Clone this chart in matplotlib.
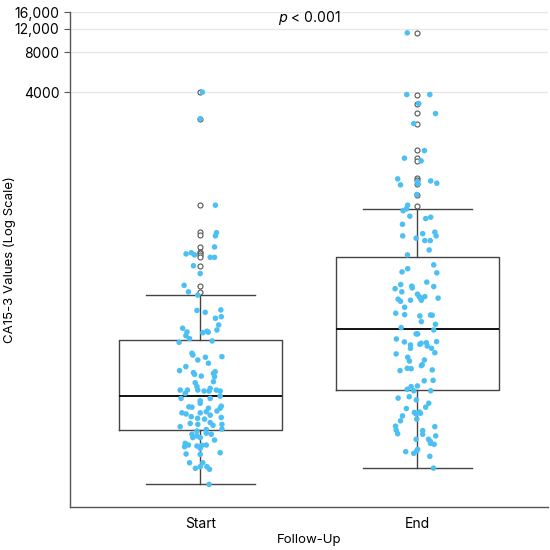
import matplotlib
matplotlib.use("Agg")
import matplotlib.pyplot as plt
from matplotlib.ticker import FixedLocator, NullLocator

plt.rcParams['font.family'] = ['Inter', 'DejaVu Sans']

categories = ['Start', 'End']

# CA15-3 values (log scale)
start_values = [4000, 2518, 565, 351, 332, 274, 248, 243, 239, 229, 229, 198, 173, 141, 126, 119,
                91.3, 88.4, 92.1, 81.9, 79.7, 71.0, 67.1, 65.1, 62.9, 62.1, 63.7, 62.6, 59.0, 56.0,
                52.6, 53.8, 43.5, 42.2, 40.6, 38.7, 41.0, 36.6, 34.5, 32.2, 31.1, 30.2, 29.3, 31.6,
                30.7, 29.0, 26.1, 26.6, 24.4, 23.0, 23.0, 23.0, 21.7, 22.6, 23.7, 22.6, 23.0, 22.6,
                19.9, 19.1, 18.3, 19.9, 20.7, 17.2, 17.1, 16.8, 17.4, 16.8, 15.5, 15.2, 15.5, 15.8,
                16.0, 14.5, 14.1, 13.9, 14.9, 14.3, 12.2, 12.9, 12.7, 13.1, 12.5, 12.7, 11.7, 11.3,
                11.6, 10.7, 10.4, 10.1, 10.9, 10.1, 10.7, 9.68, 9.14, 8.88, 8.62, 8.73, 8.83, 8.88,
                7.77, 8.38, 7.55, 7.60, 6.53, 5.93, 6.10, 6.53, 6.10, 5.83, 4.49]
start_jitter = [0.01, 0.0, 0.07, 0.075, 0.07, 0.066, -0.041, -0.065, -0.026, 0.046, 0.066, -0.031,
                0.0, -0.074, -0.054, -0.011, -0.015, 0.023, 0.095, 0.097, 0.07, 0.085, -0.081,
                0.077, -0.061, 0.012, 0.031, 0.037, -0.066, -0.049, -0.097, 0.055, -0.038, -0.034,
                0.024, -0.011, 0.1, 0.038, -0.066, -0.095, -0.031, -0.026, 0.005, 0.069, 0.061,
                0.066, -0.023, 0.061, -0.015, -0.011, -0.092, -0.059, -0.069, 0.018, 0.046, 0.041,
                0.074, 0.092, -0.088, 0.0, 0.0, 0.046, 0.092, -0.052, -0.038, 0.038, 0.097, 0.092,
                -0.084, -0.065, 0.0, 0.028, 0.077, -0.041, -0.012, 0.02, 0.046, 0.097, -0.092,
                -0.046, -0.011, 0.046, 0.059, 0.1, 0.1, -0.015, 0.028, -0.038, -0.015, 0.0, 0.028,
                -0.034, 0.051, 0.066, -0.069, -0.054, -0.072, -0.015, 0.008, 0.028, 0.092, 0.0,
                0.0, -0.065, -0.049, -0.022, 0.0, 0.012, 0.031, 0.043, 0.041]

end_values = [11170, 3837, 3837, 3282, 2761, 2322, 1454, 1275, 1217, 891, 803, 850, 817, 860, 827,
              679, 565, 530, 514, 467, 448, 459, 406, 332, 319, 345, 354, 332, 306, 306, 260, 239,
              201, 188, 178, 175, 143, 133, 139, 135, 149, 138, 126, 111, 107, 109, 121, 116, 109,
              116, 113, 113, 96.5, 87.0, 84.9, 83.0, 75.2, 84.4, 84.0, 71.8, 67.8, 65.1, 60.8, 60.8,
              55.7, 52.9, 50.2, 47.4, 50.8, 51.7, 52.2, 49.3, 53.2, 47.4, 43.9, 43.0, 40.6, 38.0,
              38.7, 35.7, 35.1, 32.2, 33.5, 33.3, 32.6, 27.0, 27.2, 24.4, 23.3, 24.7, 22.7, 22.7,
              20.0, 20.5, 19.4, 18.3, 17.1, 16.7, 14.7, 13.5, 15.6, 15.2, 15.4, 15.7, 13.9, 12.3,
              11.5, 10.8, 12.2, 11.4, 10.7, 10.4, 9.80, 9.46, 9.14, 8.99, 9.80, 8.24, 8.04, 7.91,
              7.69, 7.30, 5.95]
end_jitter = [-0.047, -0.049, 0.057, 0.006, 0.083, -0.017, 0.032, -0.06, 0.017, -0.091, -0.078, 0.0,
              0.003, 0.061, 0.089, -0.003, -0.045, -0.051, -0.066, -0.035, 0.038, 0.061, -0.069,
              -0.068, -0.006, 0.024, 0.08, 0.086, 0.034, 0.059, 0.054, -0.046, 0.075, -0.045,
              -0.071, 0.089, -0.077, -0.103, -0.026, -0.024, 0.043, 0.075, -0.072, -0.089, -0.078,
              -0.032, 0.0, 0.008, 0.018, 0.034, 0.014, 0.095, -0.059, -0.1, -0.059, 0.011, 0.018,
              0.06, 0.068, 0.083, -0.075, 0.075, -0.006, 0.001, -0.097, -0.06, -0.032, -0.032,
              0.011, 0.017, 0.041, 0.045, 0.088, 0.065, 0.08, -0.098, -0.045, -0.037, 0.032, 0.022,
              0.018, -0.08, -0.047, -0.029, 0.068, 0.031, 0.072, -0.029, -0.047, 0.0, -0.017, 0.061,
              -0.089, -0.038, -0.005, 0.052, 0.038, -0.051, -0.069, -0.078, -0.014, -0.006, 0.014,
              0.009, -0.003, -0.101, -0.098, -0.091, 0.08, 0.024, 0.024, 0.084, 0.051, 0.059, 0.06,
              0.077, -0.006, 0.001, -0.003, -0.054, -0.017, 0.057, 0.074]

# box statistics (q1, median, q3, whiskers) and outliers
q1 = [11.6, 22.9]
med = [20.9, 66.2]
q3 = [54.7, 229]
whislo = [4.49, 5.95]
whishi = [119, 530]
start_fliers = [4000, 2517, 565, 354, 336, 273, 251, 246, 238, 231, 197, 140, 126]
end_fliers = [11170, 3835, 3268, 2767, 2321, 1459, 1277, 1206, 906, 875, 812, 679, 561]

ytick_values = [4000, 8000, 12000, 16000]
ytick_labels = ['4000', '8000', '12,000', '16,000']

fig = plt.figure(figsize=(5.5, 5.5), dpi=100)
ax = fig.add_axes([0.127, 0.078, 0.869, 0.9])

stats = []
for i, lab in enumerate(categories):
    stats.append({'label': lab, 'q1': q1[i], 'med': med[i], 'q3': q3[i],
                  'whislo': whislo[i], 'whishi': whishi[i],
                  'fliers': [start_fliers, end_fliers][i]})

ax.bxp(stats, positions=[0, 1], widths=0.75, capwidths=0.5, showfliers=True,
       boxprops=dict(color='#444444', linewidth=1.0),
       whiskerprops=dict(color='#444444', linewidth=1.0),
       capprops=dict(color='#444444', linewidth=1.0),
       medianprops=dict(color='#111111', linewidth=1.4),
       flierprops=dict(marker='o', markersize=3.6, markerfacecolor='white',
                       markeredgecolor='#555555', markeredgewidth=0.8, linestyle='none'),
       zorder=2)

for i, (vals, jit) in enumerate([(start_values, start_jitter), (end_values, end_jitter)]):
    ax.scatter([i + j for j in jit], vals, s=16, color='#4cc0f2', edgecolors='none', zorder=3)

ax.set_yscale('log')
ax.set_ylim(3.03, 16000)
ax.set_xlim(-0.6, 1.6)
ax.yaxis.set_major_locator(FixedLocator(ytick_values))
ax.yaxis.set_minor_locator(NullLocator())
ax.set_yticklabels(ytick_labels)
ax.set_xticks([0, 1])
ax.set_xticklabels(categories)
ax.tick_params(axis='x', length=0, pad=7, labelsize=10)
ax.tick_params(axis='y', length=4, width=0.8, color='#555555', labelsize=10)
ax.grid(axis='y', color='#e6e6e6', linewidth=0.9, zorder=0)
ax.set_axisbelow(True)

for side in ['top', 'right']:
    ax.spines[side].set_visible(False)
for side in ['left', 'bottom']:
    ax.spines[side].set_color('#555555')
    ax.spines[side].set_linewidth(1.0)

ax.set_xlabel('Follow-Up', fontsize=9.5)
ax.xaxis.label.set_va('center')
ax.xaxis.set_label_coords(0.5, -0.066)
ax.set_ylabel('CA15-3 Values (Log Scale)', fontsize=9.5)
ax.yaxis.label.set_va('center')
ax.yaxis.set_label_coords(-0.125, 0.5)
ax.text(0.5, 0.988, r'$p$ < 0.001', transform=ax.transAxes, ha='center', va='center', fontsize=10)

fig.savefig('out.png', dpi=100)
